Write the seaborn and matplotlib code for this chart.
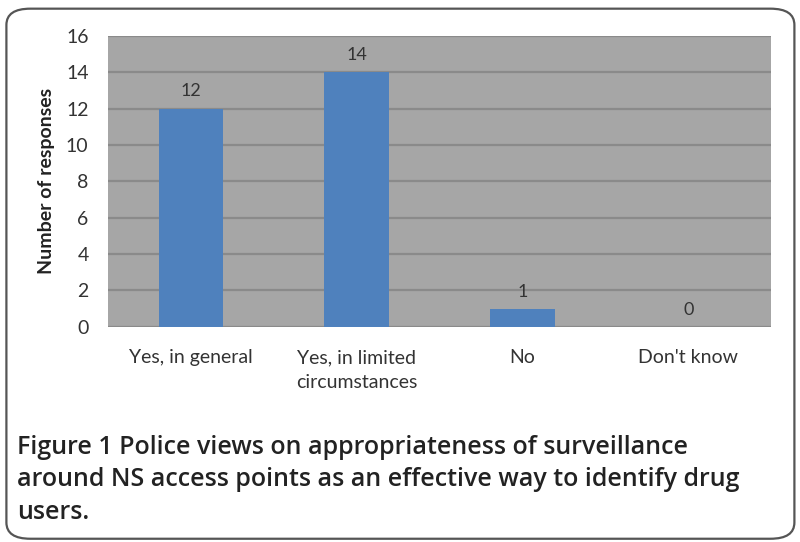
import matplotlib
matplotlib.use("Agg")
import matplotlib.pyplot as plt
from matplotlib.patches import FancyBboxPatch
import seaborn as sns
import pandas as pd

categories = ["Yes, in general", "Yes, in limited\ncircumstances", "No", "Don't know"]
responses = [12, 14, 1, 0]
y_ticks = [0, 2, 4, 6, 8, 10, 12, 14, 16]

caption = ("Figure 1 Police views on appropriateness of surveillance\n"
           "around NS access points as an effective way to identify drug\n"
           "users.")

sns.set_theme(style="white")
plt.rcParams["font.family"] = ["Lato", "DejaVu Sans"]

df = pd.DataFrame({"category": categories, "responses": responses})

fig = plt.figure(figsize=(8.0, 5.42), dpi=100)
ax = fig.add_axes([0.135, 0.397, 0.829, 0.537])

# rounded frame around chart and caption
frame = FancyBboxPatch((0.008, 0.006), 0.985, 0.978,
                       boxstyle="round,pad=0,rounding_size=0.03",
                       transform=fig.transFigure, fill=False,
                       edgecolor="#555555", linewidth=1.6, zorder=0)
fig.patches.append(frame)

ax.set_facecolor("#a6a6a6")
sns.barplot(data=df, x="category", y="responses", color="#4f81bd",
            saturation=1, width=0.39, linewidth=0, ax=ax, zorder=3)

ax.set_ylim(0, 16)
ax.set_yticks(y_ticks)
for t in y_ticks:
    ax.axhline(t, color="#8a8a8a", linewidth=1.6, zorder=1)

for i, v in enumerate(responses):
    ax.text(i, v + 0.5, str(v), ha="center", va="bottom",
            fontsize=13, color="#333333", zorder=4)

for s in ax.spines.values():
    s.set_visible(False)
ax.tick_params(axis="both", length=0, labelsize=14, colors="#333333")
ax.tick_params(axis="y", pad=14)
ax.tick_params(axis="x", pad=16)
for lbl in ax.get_xticklabels():
    lbl.set_linespacing(1.55)
ax.set_xlabel("")
ax.set_ylabel("Number of responses", fontsize=14, fontweight="bold",
              color="#222222", labelpad=8)

fig.text(0.021, 0.198, caption, ha="left", va="top", fontsize=18,
         fontweight="semibold", color="#222222", linespacing=1.4,
         family=["Open Sans", "DejaVu Sans"])

fig.savefig("out.png", dpi=100)
